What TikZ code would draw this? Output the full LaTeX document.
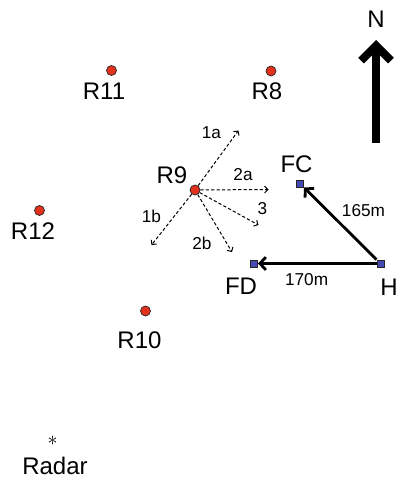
\documentclass[tikz,border=0pt]{standalone}
\usepackage{fontspec}
\setmainfont{Liberation Sans}
\usetikzlibrary{arrows.meta}
\definecolor{dotred}{RGB}{226,50,30}
\definecolor{siteblue}{RGB}{70,74,176}
\begin{document}
\begin{tikzpicture}[x=0.5pt, y=-0.5pt, font=\fontsize{12}{14}\selectfont,
  rdot/.style={circle, draw=black!85, fill=dotred, line width=0.35pt, minimum size=5pt, inner sep=0pt},
  site/.style={rectangle, draw=black!85, fill=siteblue, line width=0.35pt, minimum size=3.6pt, inner sep=0pt},
  route/.style={dash pattern=on 1.6pt off 1.1pt, line width=0.5pt, -{Straight Barb[length=1.6pt,width=3.4pt]}},
  dist/.style={line width=1.4pt, -{Straight Barb[length=3pt,width=6.4pt]}},
  tag/.style={font=\fontsize{8.6}{10}\selectfont}]
\useasboundingbox (0,0) rectangle (399,477);
% radars
\node[rdot] (r11) at (111.5,70.5) {};
\node[rdot] (r8) at (271,71) {};
\node[rdot] (r12) at (39.5,210.5) {};
\node[rdot] (r9) at (195,190) {};
\node[rdot] (r10) at (145.5,311) {};
\node[inner sep=0pt] (radar) at (52.7,440.5) {\fontsize{10}{10}\selectfont$\ast$};
\node at (104,91) {R11};
\node at (267,91) {R8};
\node at (33,231) {R12};
\node at (172,175) {R9};
\node at (139.5,340) {R10};
\node at (55,466) {Radar};
% sites
\node[site] (fc) at (300,183.5) {};
\node[site] (fd) at (254,263.5) {};
\node[site] (h) at (380.5,263.5) {};
\node at (296.5,164) {FC};
\node at (241,286) {FD};
\node at (389,287) {H};
\draw[dist] (h) -- (fc) node[tag, pos=0.45, above right, xshift=-5pt, yshift=1pt] {165m};
\draw[dist] (h) -- (fd) node[tag, pos=0.59, below, yshift=-1pt] {170m};
% routes from R9
\coordinate (e1a) at (238.5,130.5);
\coordinate (e2a) at (268.5,189.5);
\coordinate (e3) at (258.5,225);
\coordinate (e2b) at (232,252);
\coordinate (e1b) at (151.5,245);
\draw[route] (r9) -- (e1a);
\draw[route] (r9) -- (e2a);
\draw[route] (r9) -- (e3);
\draw[route] (r9) -- (e2b);
\draw[route] (r9) -- (e1b);
\node[tag] at (211.5,133) {1a};
\node[tag] at (243,175) {2a};
\node[tag] at (262.5,209) {3};
\node[tag] at (202,243) {2b};
\node[tag] at (151.5,216) {1b};
% north
\node (north) at (376,19) {N};
\coordinate (ntail) at (376,143);
\coordinate (ntip) at (376,40);
\draw[line width=4pt, -{Straight Barb[length=7.5pt,width=15pt]}] (ntail) -- (ntip);
\end{tikzpicture}
\end{document}
